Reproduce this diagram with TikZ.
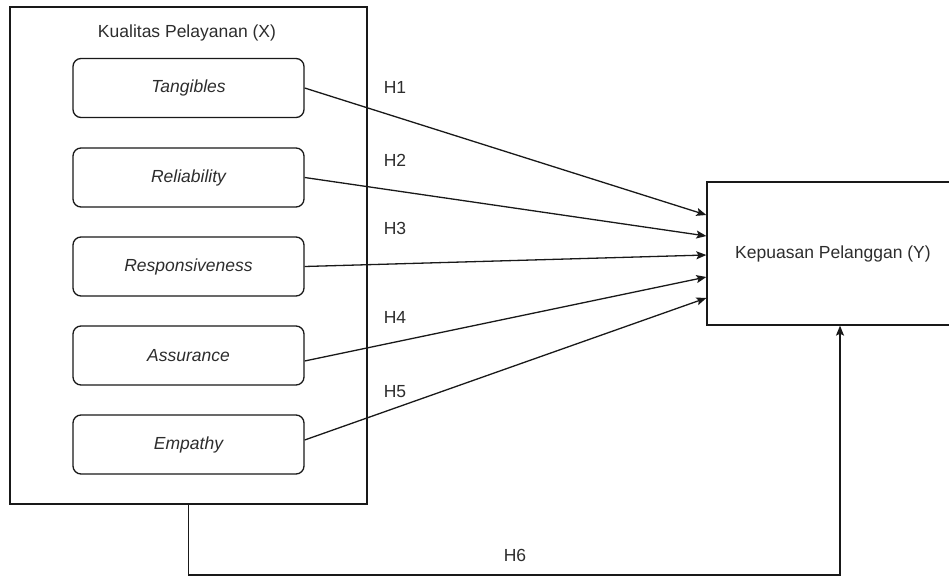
\documentclass[tikz,border=0pt]{standalone}
\usepackage{fontspec}
\setmainfont{Liberation Sans}
\usetikzlibrary{arrows.meta}
\definecolor{txt}{RGB}{45,45,45}
\definecolor{ln}{RGB}{25,25,25}
\tikzset{
  lbl/.style={text=txt,font=\fontsize{17.5}{21}\selectfont,inner sep=0pt},
  dim/.style={lbl,font=\fontsize{17.5}{21}\selectfont\itshape},
  outerbox/.style={draw=ln,line width=1.3pt,minimum width=357pt,minimum height=497pt,inner sep=0pt},
  dimbox/.style={draw=ln,line width=1.3pt,rounded corners=8pt,minimum width=231pt,minimum height=59pt,inner sep=0pt,dim},
  ybox/.style={draw=ln,line width=1.3pt,minimum width=252pt,minimum height=143pt,inner sep=0pt,lbl},
  conn/.style={draw=ln,line width=1.3pt,-{Stealth[length=10pt,width=8pt,inset=2pt]}},
  hyp/.style={lbl}
}
\begin{document}
\begin{tikzpicture}[x=1pt,y=-1pt]
\clip (0,0) rectangle (949,577);
\fill[white] (0,0) rectangle (949,577);
% outer box X
\node[outerbox] (X) at (188.5,255.5) {};
\node[lbl] (xlab) at (187,33) {Kualitas Pelayanan (X)};
% dimensions
\node[dimbox] (tan) at (188.5,88) {Tangibles};
\node[dimbox] (rel) at (188.5,177.5) {Reliability};
\node[dimbox] (res) at (188.5,266.5) {Responsiveness};
\node[dimbox] (ass) at (188.5,355.5) {Assurance};
\node[dimbox] (emp) at (188.5,444.5) {Empathy};
% Y box
\node[ybox] (Y) at (833,253.5) {Kepuasan Pelanggan (Y)};
% connectors
\draw[conn] (tan.east) -- ([yshift=38.5pt]Y.west);
\draw[conn] (rel.east) -- ([yshift=17.5pt]Y.west);
\draw[conn] (res.east) -- ([yshift=-1.5pt]Y.west);
\draw[conn] ([yshift=-5.5pt]ass.east) -- ([yshift=-23.5pt]Y.west);
\draw[conn] ([yshift=4.5pt]emp.east) -- ([yshift=-44.5pt]Y.west);
% H6 path
\coordinate (b1) at (188.5,575);
\coordinate (b2) at (840,575);
\draw[conn] (X.south) -- (b1) -- (b2) -- (b2 |- Y.south);
% labels
\node[hyp] (h1) at (395,87) {H1};
\node[hyp] (h2) at (395,160) {H2};
\node[hyp] (h3) at (395,228) {H3};
\node[hyp] (h4) at (395,317) {H4};
\node[hyp] (h5) at (395,392) {H5};
\node[hyp] (h6) at (515,555) {H6};
\end{tikzpicture}
\end{document}
